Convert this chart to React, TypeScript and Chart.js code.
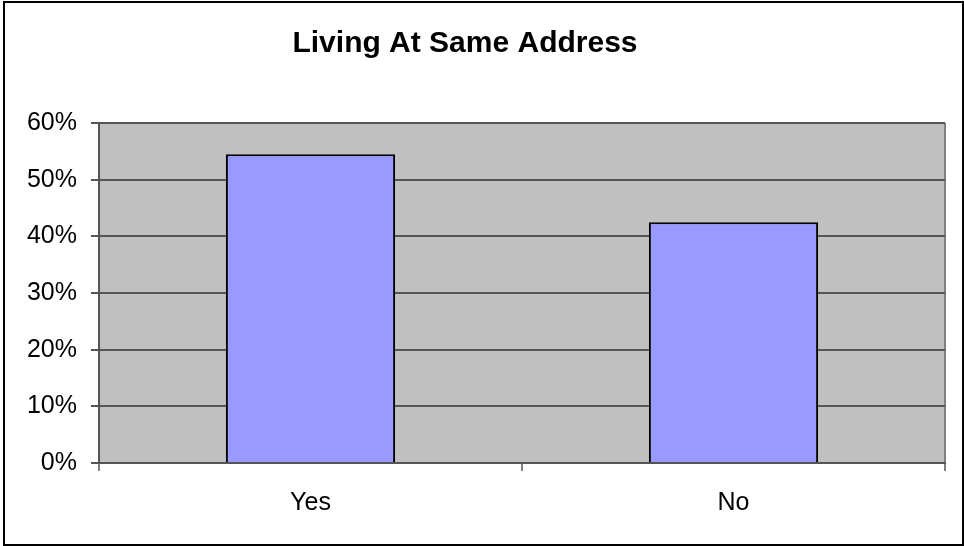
import React, { useEffect, useRef } from "react";
import { Chart, registerables } from "chart.js";

Chart.register(...registerables);

const TITLE = "Living At Same Address";
const CATEGORIES = ["Yes", "No"];
const VALUES = [54.5, 42.5];
const Y_MIN = 0;
const Y_MAX = 60;
const Y_STEP = 10;

const FONT = "'Liberation Sans', Arial, sans-serif";

const plotBg = {
  id: "plotBg",
  beforeDraw(chart: any) {
    const { ctx, chartArea: a } = chart;
    ctx.save();
    ctx.fillStyle = "#C0C0C0";
    ctx.fillRect(a.left, a.top, a.right - a.left, a.bottom - a.top);
    ctx.strokeStyle = "#808080";
    ctx.lineWidth = 2;
    ctx.beginPath();
    ctx.moveTo(a.right, a.top);
    ctx.lineTo(a.right, a.bottom);
    ctx.stroke();
    ctx.restore();
  },
};

const titlePlugin = {
  id: "customTitle",
  afterDraw(chart: any) {
    const { ctx } = chart;
    ctx.save();
    ctx.fillStyle = "#000";
    ctx.font = `bold 30px ${FONT}`;
    ctx.textAlign = "center";
    ctx.textBaseline = "alphabetic";
    ctx.fillText(TITLE, 465, 52);
    ctx.restore();
  },
};

export default function App() {
  const ref = useRef<HTMLCanvasElement>(null);
  useEffect(() => {
    const chart = new Chart(ref.current!, {
      type: "bar",
      data: {
        labels: CATEGORIES,
        datasets: [
          {
            data: VALUES,
            backgroundColor: "#9999FF",
            borderColor: "#000000",
            borderWidth: 2,
            barPercentage: 0.4,
            categoryPercentage: 1,
          },
        ],
      },
      options: {
        animation: false,
        responsive: false,
        maintainAspectRatio: false,
        devicePixelRatio: 1,
        layout: { padding: { left: 0, right: 19, top: 123, bottom: 0 } },
        plugins: {
          legend: { display: false },
          title: { display: false },
          tooltip: { enabled: false },
        },
        scales: {
          x: {
            grid: {
              offset: true,
              drawOnChartArea: false,
              drawTicks: true,
              tickLength: 8,
              color: "#808080",
              lineWidth: 2,
            },
            border: { display: true, color: "#555555", width: 2 },
            ticks: {
              color: "#000",
              font: { family: FONT, size: 25 },
              padding: 17,
            },
            afterFit: (s: any) => {
              s.height = 83;
            },
          },
          y: {
            min: Y_MIN,
            max: Y_MAX,
            grid: {
              color: "#555555",
              lineWidth: 2,
              tickLength: 8,
            },
            border: { display: true, color: "#555555", width: 2 },
            ticks: {
              stepSize: Y_STEP,
              color: "#000",
              font: { family: FONT, size: 25 },
              padding: 14,
              callback: (v: any) => `${v}%`,
            },
            afterFit: (s: any) => {
              s.width = 99;
            },
          },
        },
      },
      plugins: [plotBg, titlePlugin],
    });
    return () => chart.destroy();
  }, []);

  return (
    <div style={{ position: "absolute", left: 0, top: 0, width: 964, height: 546, background: "#fff" }}>
      <canvas ref={ref} width={964} height={546} style={{ position: "absolute", left: 0, top: 0, width: 964, height: 546 }} />
      <div
        style={{
          position: "absolute",
          left: 3,
          top: 1,
          width: 961,
          height: 545,
          border: "2px solid #000",
          boxSizing: "border-box",
          pointerEvents: "none",
        }}
      />
    </div>
  );
}
